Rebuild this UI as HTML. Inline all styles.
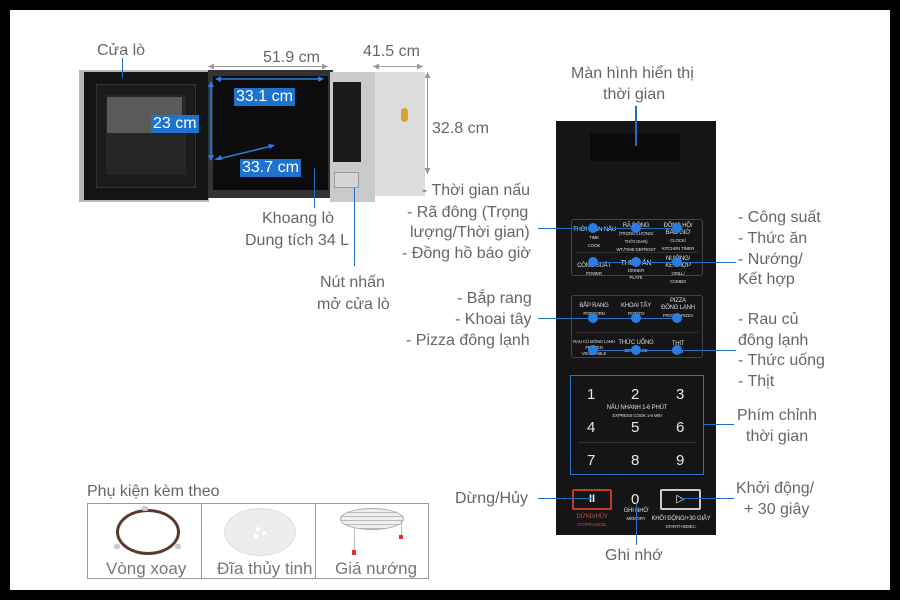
<!DOCTYPE html>
<html><head><meta charset="utf-8"><style>
*{margin:0;padding:0;box-sizing:border-box}
body{width:900px;height:600px;background:#000;position:relative;overflow:hidden;font-family:"Liberation Sans",sans-serif}
#w{position:absolute;left:10px;top:10px;width:880px;height:580px;background:#fff}
.t{position:absolute;color:#666;font-size:16px;line-height:21px;white-space:nowrap}
.a{position:absolute;background:#1f6fc4}
.d{position:absolute;width:10px;height:10px;border-radius:50%;background:#2a7de0}
.p{position:absolute;color:#ddd;font-size:6px;line-height:7px;text-align:center;white-space:nowrap;letter-spacing:-0.2px}
.p b{font-weight:normal;font-size:4.5px}
.n{position:absolute;color:#e8e8e8;font-size:15px}
.bl{position:absolute;background:#1e73d0;color:#fff;font-size:16px;line-height:18px;padding:0 2px}
</style></head><body><div id="w"></div>
<!-- microwave -->
<div style="position:absolute;left:79px;top:70px;width:130px;height:132px;background:#b5b6b8"></div>
<div style="position:absolute;left:84px;top:72px;width:124px;height:128px;background:#141414"></div>
<div style="position:absolute;left:96px;top:84px;width:100px;height:104px;border:1px solid #333;background:#1b1b1b"></div>
<div style="position:absolute;left:106px;top:95px;width:80px;height:80px;background:#262626"></div>
<div style="position:absolute;left:107px;top:97px;width:75px;height:36px;background:#5a5a5a"></div>
<div style="position:absolute;left:208px;top:70px;width:125px;height:128px;background:#333"></div>
<div style="position:absolute;left:213px;top:76px;width:115px;height:114px;background:#0c0c0c"></div>
<div style="position:absolute;left:330px;top:72px;width:45px;height:130px;background:#c9cacc"></div>
<div style="position:absolute;left:333px;top:82px;width:28px;height:80px;background:#1a1a1a"></div>
<div style="position:absolute;left:334px;top:172px;width:25px;height:16px;border:1px solid #999;background:#d5d5d5"></div>
<div style="position:absolute;left:375px;top:72px;width:50px;height:124px;background:#dcdcdd"></div>
<div style="position:absolute;left:401px;top:108px;width:7px;height:14px;border-radius:4px;background:#d2a530"></div>
<!-- dimension lines -->
<svg style="position:absolute;left:0;top:0" width="900" height="600">
<g stroke="#999" fill="#999" stroke-width="1">
<line x1="208" y1="66.5" x2="328" y2="66.5"/><path d="M208 66.5l6-3v6z" stroke="none"/><path d="M328 66.5l-6-3v6z" stroke="none"/>
<line x1="373" y1="66.5" x2="423" y2="66.5"/><path d="M373 66.5l6-3v6z" stroke="none"/><path d="M423 66.5l-6-3v6z" stroke="none"/>
<line x1="427.5" y1="72" x2="427.5" y2="174"/><path d="M427.5 72l-3 6h6z" stroke="none"/><path d="M427.5 174l-3-6h6z" stroke="none"/>
</g>
<g stroke="#2a7de0" fill="#2a7de0" stroke-width="1.5">
<line x1="218" y1="79" x2="320" y2="79"/><path d="M215 79l6-3v6zM324 79l-6-3v6z" stroke="none"/>
<line x1="211" y1="84" x2="211" y2="158"/><path d="M211 81l-3 6h6zM211 161l-3-6h6z" stroke="none"/>
<line x1="218" y1="159" x2="272" y2="146"/><path d="M214 160l7-5 1 5zM275 145l-7-1 2 5z" stroke="none"/>
</g></svg>
<div class="t" style="left:263px;top:47px">51.9 cm</div>
<div class="t" style="left:363px;top:41px">41.5 cm</div>
<div class="t" style="left:432px;top:118px">32.8 cm</div>
<div class="t" style="left:97px;top:40px">Cửa lò</div>
<div class="a" style="left:122px;top:58px;width:1px;height:20px"></div>
<div class="bl" style="left:234px;top:88px">33.1 cm</div>
<div class="bl" style="left:151px;top:115px">23 cm</div>
<div class="bl" style="left:240px;top:159px">33.7 cm</div>
<div class="a" style="left:314px;top:168px;width:1px;height:40px"></div>
<div class="t" style="left:262px;top:208px">Khoang lò</div>
<div class="t" style="left:245px;top:230px">Dung tích 34 L</div>
<div class="a" style="left:354px;top:188px;width:1px;height:78px"></div>
<div class="t" style="left:320px;top:272px">Nút nhấn</div>
<div class="t" style="left:317px;top:294px">mở cửa lò</div>
<!-- panel -->
<div style="position:absolute;left:556px;top:121px;width:160px;height:414px;background:#151515"></div>
<div style="position:absolute;left:590px;top:133px;width:90px;height:28px;background:#0a0a0a"></div>
<div style="position:absolute;left:571px;top:219px;width:132px;height:57px;border:1px solid #444;border-radius:3px"></div>
<div style="position:absolute;left:576px;top:252px;width:122px;height:1px;background:#333"></div>
<div style="position:absolute;left:571px;top:295px;width:132px;height:63px;border:1px solid #444;border-radius:3px"></div>
<div style="position:absolute;left:576px;top:332px;width:122px;height:1px;background:#333"></div>
<div class="p" style="left:573px;top:227px;width:42px">THỜI GIAN NẤU<br><b>TIME<br>COOK</b></div>
<div class="p" style="left:615px;top:223px;width:42px">RÃ ĐÔNG<br><b>(TRỌNG LƯỢNG/</b><br><b>THỜI GIAN)</b><br><b>WT./TIME DEFROST</b></div>
<div class="p" style="left:657px;top:223px;width:42px">ĐỒNG HỒ/<br>BÁO GIỜ<br><b>CLOCK/<br>KITCHEN TIMER</b></div>
<div class="p" style="left:573px;top:263px;width:42px">CÔNG SUẤT<br><b>POWER</b></div>
<div class="p" style="left:615px;top:260px;width:42px;font-size:7px">THỨC ĂN<br><b>DINNER<br>PLATE</b></div>
<div class="p" style="left:657px;top:256px;width:42px">NƯỚNG/<br>KẾT HỢP<br><b>GRILL/<br>COMBO</b></div>
<div class="p" style="left:573px;top:303px;width:42px">BẮP RANG<br><b>POPCORN</b></div>
<div class="p" style="left:615px;top:303px;width:42px">KHOAI TÂY<br><b>POTATO</b></div>
<div class="p" style="left:657px;top:298px;width:42px">PIZZA<br>ĐÔNG LẠNH<br><b>FROZEN PIZZA</b></div>
<div class="p" style="left:571px;top:339px;width:46px;font-size:4.5px;line-height:6px">RAU CỦ ĐÔNG LẠNH<br>FROZEN<br>VEGETABLE</div>
<div class="p" style="left:615px;top:340px;width:42px">THỨC UỐNG<br><b>BEVERAGE</b></div>
<div class="p" style="left:657px;top:341px;width:42px">THỊT<br><b>MEAT</b></div>
<div style="position:absolute;left:570px;top:375px;width:134px;height:100px;border:1px solid #2c74c8"></div>
<div style="position:absolute;left:578px;top:442px;width:118px;height:1px;background:#333"></div>
<div class="n" style="left:587px;top:386px">1</div><div class="n" style="left:631px;top:386px">2</div><div class="n" style="left:676px;top:386px">3</div>
<div class="p" style="left:600px;top:405px;width:74px">NẤU NHANH 1-6 PHÚT<br><b>EXPRESS COOK 1-6 MIN</b></div>
<div class="n" style="left:587px;top:419px">4</div><div class="n" style="left:631px;top:419px">5</div><div class="n" style="left:676px;top:419px">6</div>
<div class="n" style="left:587px;top:452px">7</div><div class="n" style="left:631px;top:452px">8</div><div class="n" style="left:676px;top:452px">9</div>
<div style="position:absolute;left:572px;top:489px;width:40px;height:21px;border:2px solid #c0392b;border-radius:2px;color:#eee;font-size:11px;text-align:center;line-height:17px;font-weight:bold">II</div>
<div class="p" style="left:568px;top:514px;width:48px;color:#d24b3b">DỪNG/HỦY<br><b>STOP/CANCEL</b></div>
<div class="n" style="left:631px;top:491px">0</div>
<div class="p" style="left:616px;top:508px;width:40px">GHI NHỚ<br><b>MEMORY</b></div>
<div style="position:absolute;left:660px;top:489px;width:41px;height:21px;border:2px solid #ccc;border-radius:2px;color:#eee;font-size:11px;text-align:center;line-height:17px">▷</div>
<div class="p" style="left:648px;top:516px;width:66px">KHỞI ĐỘNG/+30 GIÂY<br><b>START/+30SEC.</b></div>
<!-- connectors -->
<div class="a" style="left:635px;top:106px;width:2px;height:40px"></div>
<div class="a" style="left:538px;top:228px;width:140px;height:1px"></div>
<div class="a" style="left:593px;top:262px;width:123px;height:1px"></div>
<div class="a" style="left:716px;top:262px;width:20px;height:1px"></div>
<div class="a" style="left:538px;top:318px;width:140px;height:1px"></div>
<div class="a" style="left:593px;top:350px;width:143px;height:1px"></div>
<div class="a" style="left:704px;top:424px;width:30px;height:1px"></div>
<div class="a" style="left:538px;top:498px;width:55px;height:1px"></div>
<div class="a" style="left:680px;top:498px;width:54px;height:1px"></div>
<div class="a" style="left:636px;top:503px;width:1px;height:42px"></div>
<div class="d" style="left:588px;top:223px"></div><div class="d" style="left:631px;top:223px"></div><div class="d" style="left:672px;top:223px"></div>
<div class="d" style="left:588px;top:257px"></div><div class="d" style="left:631px;top:257px"></div><div class="d" style="left:672px;top:257px"></div>
<div class="d" style="left:588px;top:313px"></div><div class="d" style="left:631px;top:313px"></div><div class="d" style="left:672px;top:313px"></div>
<div class="d" style="left:588px;top:345px"></div><div class="d" style="left:631px;top:345px"></div><div class="d" style="left:672px;top:345px"></div>
<!-- labels -->
<div class="t" style="left:571px;top:63px">Màn hình hiển thị</div>
<div class="t" style="left:603px;top:84px">thời gian</div>
<div class="t" style="left:422px;top:180px">- Thời gian nấu</div>
<div class="t" style="left:407px;top:202px">- Rã đông (Trọng</div>
<div class="t" style="left:410px;top:222px">lượng/Thời gian)</div>
<div class="t" style="left:402px;top:243px">- Đồng hồ báo giờ</div>
<div class="t" style="left:738px;top:207px">- Công suất</div>
<div class="t" style="left:738px;top:228px">- Thức ăn</div>
<div class="t" style="left:738px;top:249px">- Nướng/</div>
<div class="t" style="left:738px;top:269px">Kết hợp</div>
<div class="t" style="left:457px;top:288px">- Bắp rang</div>
<div class="t" style="left:455px;top:309px">- Khoai tây</div>
<div class="t" style="left:406px;top:330px">- Pizza đông lạnh</div>
<div class="t" style="left:738px;top:309px">- Rau củ</div>
<div class="t" style="left:738px;top:330px">đông lạnh</div>
<div class="t" style="left:738px;top:350px">- Thức uống</div>
<div class="t" style="left:738px;top:371px">- Thịt</div>
<div class="t" style="left:737px;top:405px">Phím chỉnh</div>
<div class="t" style="left:746px;top:426px">thời gian</div>
<div class="t" style="left:455px;top:488px">Dừng/Hủy</div>
<div class="t" style="left:736px;top:478px">Khởi động/</div>
<div class="t" style="left:744px;top:499px">+ 30 giây</div>
<div class="t" style="left:605px;top:545px">Ghi nhớ</div>
<!-- accessories -->
<div class="t" style="left:87px;top:481px">Phụ kiện kèm theo</div>
<div style="position:absolute;left:87px;top:503px;width:342px;height:76px;border:1px solid #999"></div>
<div style="position:absolute;left:201px;top:503px;width:1px;height:76px;background:#999"></div>
<div style="position:absolute;left:315px;top:503px;width:1px;height:76px;background:#999"></div>
<div style="position:absolute;left:116px;top:509px;width:64px;height:46px;border:3px solid #5a3a2e;border-radius:50%"></div>
<div style="position:absolute;left:142px;top:506px;width:6px;height:5px;border-radius:2px;background:#ccc"></div>
<div style="position:absolute;left:114px;top:544px;width:6px;height:5px;border-radius:2px;background:#ccc"></div>
<div style="position:absolute;left:175px;top:544px;width:6px;height:5px;border-radius:2px;background:#ccc"></div>
<div style="position:absolute;left:224px;top:508px;width:72px;height:48px;border-radius:50%;background:#ececec;border:1px solid #ddd"></div>
<div style="position:absolute;left:256px;top:527px;width:4px;height:4px;border-radius:50%;background:#fff"></div>
<div style="position:absolute;left:262px;top:531px;width:4px;height:4px;border-radius:50%;background:#fff"></div>
<div style="position:absolute;left:254px;top:534px;width:4px;height:4px;border-radius:50%;background:#fff"></div>
<div style="position:absolute;left:340px;top:508px;width:64px;height:22px;border-radius:50%;background:repeating-linear-gradient(0deg,#bbb 0 1px,#eee 1px 4px);border:1px solid #aaa"></div>
<div style="position:absolute;left:354px;top:528px;width:1px;height:24px;background:#bbb"></div>
<div style="position:absolute;left:352px;top:550px;width:4px;height:5px;background:#d33"></div>
<div style="position:absolute;left:401px;top:520px;width:1px;height:17px;background:#bbb"></div>
<div style="position:absolute;left:399px;top:535px;width:4px;height:4px;background:#d33"></div>
<div class="t" style="left:106px;top:558px;font-size:17px;color:#777">Vòng xoay</div>
<div class="t" style="left:217px;top:558px;font-size:17px;color:#777">Đĩa thủy tinh</div>
<div class="t" style="left:335px;top:558px;font-size:17px;color:#777">Giá nướng</div>
</body></html>
